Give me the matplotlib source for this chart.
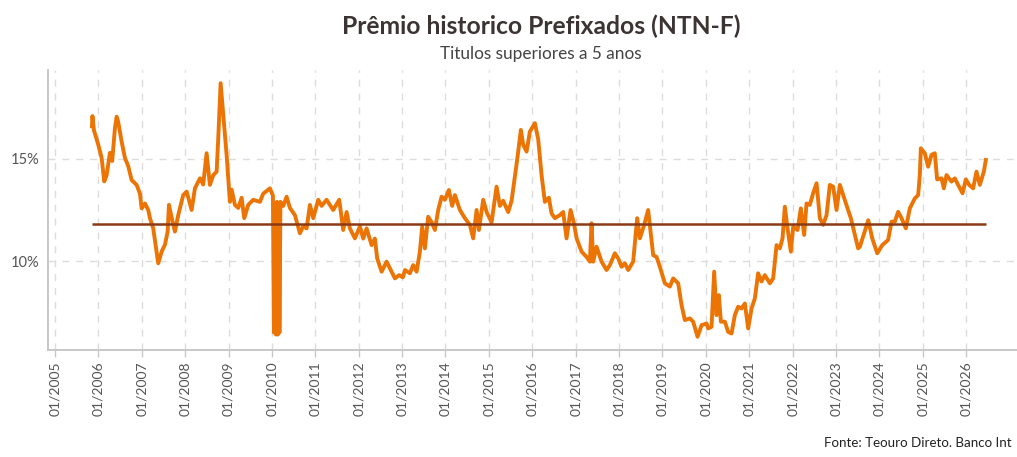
import matplotlib
matplotlib.use("Agg")
import matplotlib.pyplot as plt

plt.rcParams["font.family"] = ["Lato", "DejaVu Sans"]

# datas em anos decimais e premio (% a.a.)
anos = [
    2005.853, 2005.864, 2005.899, 2005.998, 2006.076, 2006.136, 2006.191, 2006.267,
    2006.320, 2006.382, 2006.422, 2006.459, 2006.537, 2006.613, 2006.689, 2006.767,
    2006.882, 2006.959, 2006.998, 2007.074, 2007.150, 2007.189, 2007.265, 2007.320,
    2007.380, 2007.459, 2007.535, 2007.597, 2007.627, 2007.703, 2007.765, 2007.841,
    2007.956, 2008.035, 2008.150, 2008.226, 2008.341, 2008.417, 2008.495, 2008.571,
    2008.647, 2008.726, 2008.763, 2008.818, 2008.878, 2008.956, 2009.032, 2009.071,
    2009.147, 2009.224, 2009.302, 2009.362, 2009.454, 2009.569, 2009.724, 2009.800,
    2009.954, 2010.023, 2010.046, 2010.069, 2010.092, 2010.115, 2010.138, 2010.161,
    2010.173, 2010.196, 2010.261, 2010.339, 2010.415, 2010.530, 2010.645, 2010.721,
    2010.800, 2010.876, 2010.952, 2011.067, 2011.145, 2011.260, 2011.412, 2011.551,
    2011.643, 2011.721, 2011.797, 2011.912, 2012.028, 2012.104, 2012.182, 2012.297,
    2012.373, 2012.426, 2012.528, 2012.643, 2012.758, 2012.834, 2012.933, 2013.018,
    2013.065, 2013.180, 2013.256, 2013.334, 2013.410, 2013.463, 2013.525, 2013.601,
    2013.680, 2013.756, 2013.832, 2013.910, 2013.986, 2014.078, 2014.154, 2014.217,
    2014.332, 2014.447, 2014.562, 2014.638, 2014.717, 2014.770, 2014.869, 2014.947,
    2015.062, 2015.177, 2015.253, 2015.330, 2015.445, 2015.523, 2015.583, 2015.661,
    2015.737, 2015.790, 2015.869, 2015.945, 2016.060, 2016.136, 2016.214, 2016.290,
    2016.382, 2016.445, 2016.521, 2016.636, 2016.712, 2016.790, 2016.882, 2016.959,
    2017.021, 2017.136, 2017.251, 2017.327, 2017.366, 2017.403, 2017.481, 2017.597,
    2017.712, 2017.788, 2017.903, 2017.979, 2018.058, 2018.134, 2018.210, 2018.325,
    2018.417, 2018.479, 2018.578, 2018.670, 2018.726, 2018.786, 2018.864, 2018.940,
    2019.055, 2019.171, 2019.247, 2019.362, 2019.440, 2019.516, 2019.631, 2019.707,
    2019.809, 2019.901, 2020.016, 2020.053, 2020.131, 2020.191, 2020.246, 2020.300,
    2020.346, 2020.438, 2020.514, 2020.592, 2020.668, 2020.744, 2020.822, 2020.899,
    2020.975, 2021.053, 2021.129, 2021.205, 2021.283, 2021.359, 2021.475, 2021.551,
    2021.629, 2021.705, 2021.767, 2021.820, 2021.882, 2021.959, 2022.012, 2022.113,
    2022.189, 2022.265, 2022.320, 2022.396, 2022.472, 2022.551, 2022.627, 2022.703,
    2022.781, 2022.857, 2022.933, 2023.011, 2023.088, 2023.164, 2023.265, 2023.341,
    2023.417, 2023.509, 2023.548, 2023.624, 2023.742, 2023.834, 2023.949, 2024.065,
    2024.200, 2024.279, 2024.355, 2024.431, 2024.509, 2024.608, 2024.700, 2024.816,
    2024.892, 2024.931, 2024.954, 2025.046, 2025.122, 2025.200, 2025.276, 2025.329,
    2025.431, 2025.484, 2025.546, 2025.661, 2025.737, 2025.813, 2025.915, 2025.991,
    2026.067, 2026.159, 2026.237, 2026.313, 2026.406, 2026.452,
]
premio = [
    16.60, 17.10, 16.40, 15.70, 15.05, 13.90, 14.20, 15.30,
    14.90, 16.50, 17.07, 16.80, 15.85, 15.05, 14.65, 13.97,
    13.73, 13.30, 12.58, 12.82, 12.50, 12.10, 11.60, 10.78,
    9.89, 10.46, 10.80, 11.44, 12.75, 12.00, 11.44, 12.25,
    13.23, 13.40, 12.50, 13.56, 14.05, 13.75, 15.28, 13.73,
    14.20, 14.38, 16.00, 18.71, 17.16, 15.20, 12.90, 13.50,
    12.75, 12.60, 13.10, 12.10, 12.75, 13.00, 12.90, 13.30,
    13.56, 13.20, 6.50, 12.80, 6.40, 12.90, 6.40, 12.70,
    6.50, 12.90, 12.70, 13.15, 12.60, 12.25, 11.36, 11.70,
    11.60, 12.75, 12.10, 13.00, 12.70, 13.00, 12.50, 13.00,
    11.52, 12.40, 11.60, 11.11, 11.70, 11.10, 11.60, 10.78,
    11.10, 10.13, 9.48, 9.97, 9.48, 9.15, 9.31, 9.20,
    9.56, 9.40, 9.80, 9.48, 10.46, 11.68, 10.62, 12.17,
    11.90, 11.52, 12.50, 13.15, 13.00, 13.48, 12.70, 13.23,
    12.50, 12.10, 11.77, 11.11, 12.50, 11.52, 13.00, 12.40,
    11.90, 13.64, 12.70, 12.95, 12.40, 12.95, 13.89, 15.11,
    16.42, 15.70, 15.36, 16.34, 16.75, 15.97, 14.21, 12.90,
    13.10, 12.33, 12.10, 12.25, 12.40, 11.11, 12.50, 11.85,
    11.11, 10.46, 10.20, 9.97, 11.85, 9.97, 10.70, 9.97,
    9.56, 9.80, 10.38, 10.13, 9.72, 9.89, 9.56, 9.97,
    12.10, 11.11, 11.77, 12.50, 11.44, 10.29, 10.20, 9.72,
    8.91, 8.75, 9.15, 8.91, 7.84, 7.11, 7.19, 7.03,
    6.29, 6.86, 6.94, 6.70, 6.78, 9.48, 7.35, 8.33,
    7.03, 7.03, 6.53, 6.45, 7.35, 7.76, 7.68, 7.92,
    6.70, 7.68, 8.17, 9.40, 9.00, 9.31, 8.91, 9.15,
    10.78, 10.62, 11.11, 12.66, 11.60, 10.46, 11.68, 11.52,
    12.58, 11.28, 12.82, 12.75, 13.32, 13.81, 12.10, 11.77,
    12.25, 13.73, 13.64, 12.50, 13.73, 13.23, 12.58, 12.10,
    11.44, 10.62, 10.70, 11.20, 12.00, 11.11, 10.38, 10.78,
    11.03, 11.93, 11.93, 12.41, 12.10, 11.60, 12.58, 13.07,
    13.23, 14.21, 15.52, 15.28, 14.62, 15.20, 15.28, 14.00,
    14.05, 13.56, 14.21, 13.89, 14.05, 13.73, 13.32, 14.00,
    13.73, 13.56, 14.38, 13.73, 14.38, 14.95,
]
media = 11.8
anos_ticks = list(range(2005, 2027))
y_ticks = [10, 15]

fig = plt.figure(figsize=(10.17, 4.57), dpi=100)
ax = fig.add_axes([0.0472, 0.234, 0.9528, 0.613])

ax.plot(anos, premio, color="#ec7405", lw=2.8, solid_joinstyle="round", zorder=3)
ax.hlines(media, anos[0], anos[-1], color="#8c3a16", lw=1.8, zorder=4)

ax.set_xlim(2004.84, 2027.17)
ax.set_ylim(5.64, 19.36)
ax.set_xticks(anos_ticks)
ax.set_xticklabels([f"01/{a}" for a in anos_ticks], rotation=90, fontsize=10, color="#555555")
ax.set_yticks(y_ticks)
ax.set_yticklabels([f"{v}%" for v in y_ticks], fontsize=10.5, color="#555555")
ax.tick_params(axis="x", length=5, width=1, color="#c8c8c8", pad=3)
ax.tick_params(axis="y", length=0, pad=6)

ax.grid(True, color="#dcdcdc", linestyle=(0, (5, 5)), lw=1)
ax.set_axisbelow(True)
for s in ["top", "right"]:
    ax.spines[s].set_visible(False)
for s in ["left", "bottom"]:
    ax.spines[s].set_color("#c4c4c4")
    ax.spines[s].set_linewidth(1.3)

fig.text(0.532, 0.943, "Prêmio historico Prefixados (NTN-F)", ha="center", va="center",
         fontsize=17.7, fontweight="bold", color="#3b3433")
fig.text(0.532, 0.882, "Titulos superiores a 5 anos", ha="center", va="center",
         fontsize=12.4, color="#444444")
fig.text(0.995, 0.018, "Fonte: Teouro Direto. Banco Int", ha="right", va="bottom",
         fontsize=9.6, color="#222222")

fig.savefig("out.png", dpi=100)
